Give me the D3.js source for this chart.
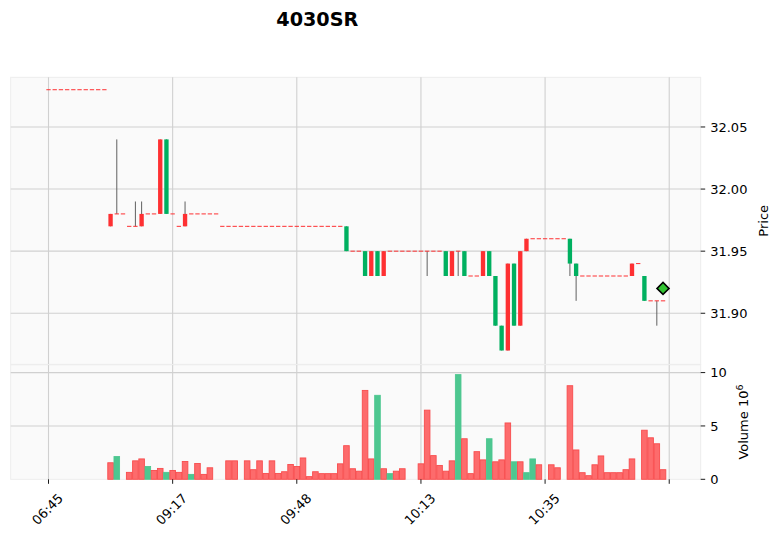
<!DOCTYPE html>
<html><head><meta charset="utf-8">
<script src="https://cdn.jsdelivr.net/npm/d3@7"></script>
<style>body{margin:0;background:#fff} text{font-family:"DejaVu Sans",sans-serif}</style>
</head><body>
<svg id="c" width="779" height="537"></svg>
<script>
const title = "4030SR";
const opens = [
32.08,32.08,32.08,32.08,32.08,32.08,32.08,32.08,32.08,32.08,
31.98,31.98,31.98,31.97,31.97,31.98,31.98,31.98,32.04,31.98,
31.98,31.97,31.98,31.98,31.98,31.98,31.98,31.98,31.97,31.97,
31.97,31.97,31.97,31.97,31.97,31.97,31.97,31.97,31.97,31.97,
31.97,31.97,31.97,31.97,31.97,31.97,31.97,31.97,31.95,31.95,
31.95,31.93,31.95,31.93,31.95,31.95,31.95,31.95,31.95,31.95,
31.95,31.95,31.95,31.95,31.93,31.95,31.95,31.93,31.93,31.93,
31.95,31.93,31.89,31.87,31.94,31.89,31.95,31.96,31.96,31.96,
31.96,31.96,31.96,31.96,31.94,31.93,31.93,31.93,31.93,31.93,
31.93,31.93,31.93,31.93,31.94,31.94,31.91,31.91,31.91,31.91];
const highs = [
32.08,32.08,32.08,32.08,32.08,32.08,32.08,32.08,32.08,32.08,
31.98,32.04,31.98,31.97,31.99,31.99,31.98,31.98,32.04,32.04,
31.98,31.97,31.99,31.98,31.98,31.98,31.98,31.98,31.97,31.97,
31.97,31.97,31.97,31.97,31.97,31.97,31.97,31.97,31.97,31.97,
31.97,31.97,31.97,31.97,31.97,31.97,31.97,31.97,31.97,31.95,
31.95,31.95,31.95,31.95,31.95,31.95,31.95,31.95,31.95,31.95,
31.95,31.95,31.95,31.95,31.95,31.95,31.95,31.95,31.93,31.93,
31.95,31.95,31.93,31.89,31.94,31.94,31.95,31.96,31.96,31.96,
31.96,31.96,31.96,31.96,31.96,31.94,31.93,31.93,31.93,31.93,
31.93,31.93,31.93,31.93,31.94,31.94,31.93,31.91,31.91,31.91];
const lows = [
32.08,32.08,32.08,32.08,32.08,32.08,32.08,32.08,32.08,32.08,
31.97,31.98,31.98,31.97,31.97,31.97,31.98,31.98,31.98,31.98,
31.98,31.97,31.97,31.98,31.98,31.98,31.98,31.98,31.97,31.97,
31.97,31.97,31.97,31.97,31.97,31.97,31.97,31.97,31.97,31.97,
31.97,31.97,31.97,31.97,31.97,31.97,31.97,31.97,31.95,31.95,
31.95,31.93,31.93,31.93,31.93,31.95,31.95,31.95,31.95,31.95,
31.95,31.93,31.95,31.95,31.93,31.93,31.93,31.93,31.93,31.93,
31.93,31.93,31.89,31.87,31.87,31.89,31.89,31.95,31.96,31.96,
31.96,31.96,31.96,31.96,31.93,31.91,31.93,31.93,31.93,31.93,
31.93,31.93,31.93,31.93,31.93,31.94,31.91,31.91,31.89,31.91];
const closes = [
32.08,32.08,32.08,32.08,32.08,32.08,32.08,32.08,32.08,32.08,
31.97,31.98,31.98,31.97,31.97,31.97,31.98,31.98,31.98,32.04,
31.98,31.97,31.97,31.98,31.98,31.98,31.98,31.98,31.97,31.97,
31.97,31.97,31.97,31.97,31.97,31.97,31.97,31.97,31.97,31.97,
31.97,31.97,31.97,31.97,31.97,31.97,31.97,31.97,31.97,31.95,
31.95,31.95,31.93,31.95,31.93,31.95,31.95,31.95,31.95,31.95,
31.95,31.95,31.95,31.95,31.95,31.93,31.95,31.95,31.93,31.93,
31.93,31.95,31.93,31.89,31.87,31.94,31.89,31.95,31.96,31.96,
31.96,31.96,31.96,31.96,31.96,31.94,31.93,31.93,31.93,31.93,
31.93,31.93,31.93,31.93,31.93,31.94,31.93,31.91,31.91,31.91];
// volume in millions
const volumes = [
0,0,0,0,0,0,0,0,0,0,
1.55,2.13,0,0.65,1.73,1.91,1.2,0.83,1.02,0.65,
0.83,0.65,1.67,0.46,1.48,0.46,1.08,0,0,1.73,
1.73,0,1.73,0.9,1.73,0.55,1.73,0.55,0.71,1.39,
1.2,2.0,0.25,0.71,0.53,0.53,0.53,1.45,3.15,0.99,
0.76,8.33,1.91,7.87,0.99,0.53,0.76,0.99,0,0,
1.45,6.48,2.22,1.3,0.76,1.73,9.81,3.8,0.53,2.59,
1.82,3.8,1.64,1.82,5.28,1.64,1.64,0.62,1.91,1.36,
0,1.36,1.08,0,8.77,2.75,0.62,0.34,1.36,2.19,
0.62,0.62,0.62,0.9,1.91,0,4.6,3.89,3.33,0.9];
const tickIdx = [0,20,40,60,80,100];
const tickLabels = ["06:45","09:17","09:48","10:13","10:35",""];
const priceTicks = [31.90,31.95,32.00,32.05];
const volTicks = [0,5,10];
const markerIdx = 99, markerPrice = 31.92;

const UP = "#00b060", DOWN = "#fe3032", WICK = "#606060";
const VUP = "#4dc790", VDOWN = "#fd6b6c";

const svg = d3.select("#c");
const L = 10.7, R = 700.7;
const pT = 77.3, pB = 364.3, vT = 364.8, vB = 479.3;

const x = d3.scaleLinear().domain([-6.09, 105.07]).range([L, R]);
const y = d3.scaleLinear().domain([31.8589, 32.0900]).range([pB, pT]);
const yv = d3.scaleLinear().domain([0, 10.73]).range([vB, vT]);
const step = x(1) - x(0);

[[pT,pB],[vT,vB]].forEach(([t,b]) => {
  svg.append("rect").attr("x",L).attr("y",t).attr("width",R-L).attr("height",b-t)
    .attr("fill","#fafafa").attr("stroke","#ededed").attr("stroke-width",1);
});

const g = svg.append("g").attr("stroke","#d0d0d0").attr("stroke-width",1.1);
tickIdx.forEach(t => {
  g.append("line").attr("x1",x(t)).attr("x2",x(t)).attr("y1",pT).attr("y2",pB);
  g.append("line").attr("x1",x(t)).attr("x2",x(t)).attr("y1",vT).attr("y2",vB);
});
priceTicks.forEach(p => g.append("line").attr("x1",L).attr("x2",R).attr("y1",y(p)).attr("y2",y(p)));
volTicks.filter(v=>v>0).forEach(v => g.append("line").attr("x1",L).attr("x2",R).attr("y1",yv(v)).attr("y2",yv(v)));

const idx = d3.range(opens.length);
const bw = step*0.7;
svg.append("g").selectAll("line").data(idx.filter(i=>highs[i]>lows[i])).join("line")
  .attr("x1",i=>x(i)).attr("x2",i=>x(i)).attr("y1",i=>y(highs[i])).attr("y2",i=>y(lows[i]))
  .attr("stroke",WICK).attr("stroke-width",1);
svg.append("g").selectAll("rect").data(idx).join("rect")
  .attr("x",i=>x(i)-bw/2).attr("width",bw)
  .attr("y",i=>{const top=y(Math.max(opens[i],closes[i])); const h=y(Math.min(opens[i],closes[i]))-top; return h<1? top-0.5: top;})
  .attr("height",i=>Math.max(1, y(Math.min(opens[i],closes[i]))-y(Math.max(opens[i],closes[i]))))
  .attr("fill",i=>closes[i]>opens[i]?UP:DOWN);

svg.append("path")
  .attr("d", d3.symbol().type(d3.symbolSquare).size(72)())
  .attr("transform",`translate(${x(markerIdx)},${y(markerPrice)}) rotate(45)`)
  .attr("fill","#32c332").attr("stroke","#000").attr("stroke-width",1.6);

const vw = step*0.9;
const vup = i => i===0 ? closes[0]>opens[0] : closes[i]>closes[i-1];
svg.append("g").selectAll("rect").data(idx.filter(i=>volumes[i]>0)).join("rect")
  .attr("x",i=>x(i)-vw/2).attr("width",vw)
  .attr("y",i=>yv(volumes[i])).attr("height",i=>vB-yv(volumes[i]))
  .attr("fill",i=>vup(i)?VUP:VDOWN)
  .attr("stroke",i=>vup(i)?"#4dc790":"#f84c4d").attr("stroke-width",0.9);

svg.append("line").attr("x1",L).attr("x2",R).attr("y1",(pB+vT)/2).attr("y2",(pB+vT)/2)
  .attr("stroke","#ededed").attr("stroke-width",1);

const ax = svg.append("g");
priceTicks.forEach(p => {
  ax.append("line").attr("x1",R).attr("x2",R+4.5).attr("y1",y(p)).attr("y2",y(p)).attr("stroke","#000").attr("stroke-width",0.9);
  ax.append("text").attr("x",R+9.5).attr("y",y(p)).attr("dy","0.36em").attr("font-size",13).attr("fill","#000").text(p.toFixed(2));
});
volTicks.forEach(v => {
  ax.append("line").attr("x1",R).attr("x2",R+4.5).attr("y1",yv(v)).attr("y2",yv(v)).attr("stroke","#000").attr("stroke-width",0.9);
  ax.append("text").attr("x",R+9.5).attr("y",yv(v)).attr("dy","0.36em").attr("font-size",13).attr("fill","#000").text(v);
});
tickIdx.forEach((t,k) => {
  ax.append("line").attr("x1",x(t)).attr("x2",x(t)).attr("y1",vB).attr("y2",vB+4.5).attr("stroke","#000").attr("stroke-width",0.9);
  if (tickLabels[k]) ax.append("text")
    .attr("transform",`translate(${x(t)+2.2},${512.4}) rotate(-45)`)
    .attr("text-anchor","middle").attr("font-size",13).attr("fill","#000").text(tickLabels[k]);
});

svg.append("text").attr("transform",`translate(768,${(pT+pB)/2}) rotate(-90)`)
  .attr("text-anchor","middle").attr("font-size",13).text("Price");
const vl = svg.append("text").attr("transform",`translate(748,${(vT+vB)/2}) rotate(-90)`)
  .attr("text-anchor","middle").attr("font-size",13);
vl.append("tspan").text("Volume  10");
vl.append("tspan").attr("dy",-5).attr("font-size",9.5).text("6");

svg.append("text").attr("x",317.3).attr("y",26).attr("text-anchor","middle")
  .attr("font-size",19.2).attr("font-weight","bold").text(title);
</script>
</body></html>
